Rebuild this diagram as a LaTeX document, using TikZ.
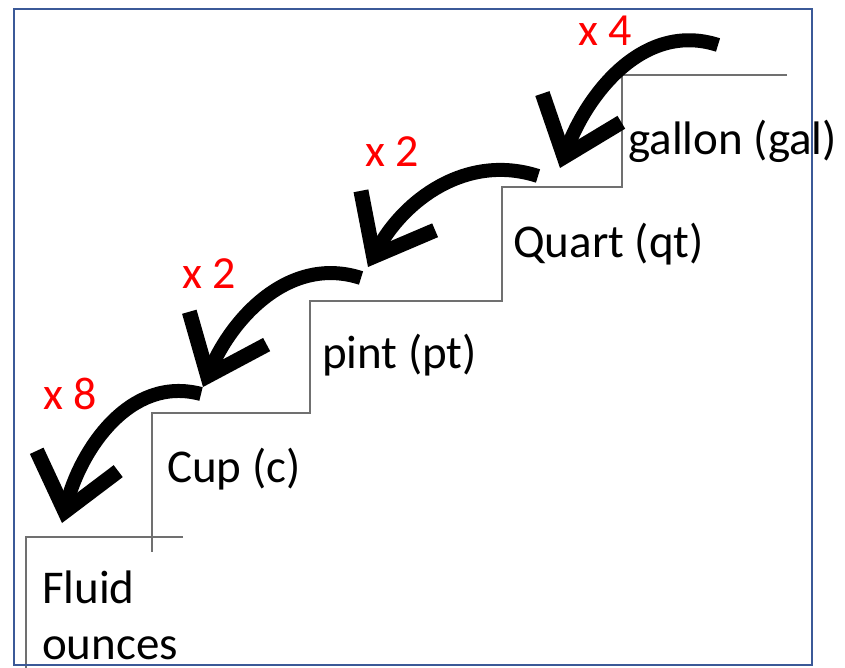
\documentclass[tikz,border=0pt]{standalone}
\usepackage{fontspec}
\setmainfont{Carlito}
\usetikzlibrary{arrows.meta}
\definecolor{frameblue}{RGB}{59,89,152}
\definecolor{stairgray}{RGB}{112,112,112}
\tikzset{
  stair/.style={draw=stairgray, line width=2pt},
  unitlabel/.style={anchor=base west, inner sep=0pt, font=\fontsize{47}{56}\selectfont},
  factor/.style={anchor=base west, inner sep=0pt, text=red, font=\fontsize{46}{55}\selectfont},
  hop/.style={line width=14pt, line cap=butt,
    -{Straight Barb[sharp, length=52pt, width=84pt, line width=15pt]}},
}
\begin{document}
\begin{tikzpicture}[x=1pt, y=-1pt]
  \useasboundingbox (0,0) rectangle (845,668);

  % staircase outline
  \draw[stair] (787,75) -- (622,75) -- (622,187) -- (502,187) -- (502,301)
    -- (310,301) -- (310,413) -- (152,413) -- (152,552);
  \draw[stair] (183,537) -- (26,537) -- (26,668);

  % unit on each step
  \node[unitlabel] (gal) at (628,155) {gallon (gal)};
  \node[unitlabel] (qt) at (513,257) {Quart (qt)};
  \node[unitlabel] (pt) at (322,368) {pint (pt)};
  \node[unitlabel] (cup) at (167,482) {Cup (c)};
  \node[unitlabel, align=left] (floz) at (42,659) {Fluid\\ounces};

  % conversion factors
  \node[factor] (f4) at (578,46) {x 4};
  \node[factor] (f2a) at (365,167) {x 2};
  \node[factor] (f2b) at (182,288) {x 2};
  \node[factor] (f8) at (43,409) {x 8};

  % arrow ends
  \coordinate (t1) at (718,45);  \coordinate (p1) at (560,168);
  \coordinate (t2) at (538,176); \coordinate (p2) at (368,267);
  \coordinate (t3) at (361,278); \coordinate (p3) at (203,387);
  \coordinate (t4) at (201,394); \coordinate (p4) at (62,523);

  % hops down the stairs
  \draw[hop] (t1) to[out=162, in=70] (p1);
  \draw[hop] (t2) to[out=162, in=62] (p2);
  \draw[hop] (t3) to[out=162, in=67] (p3);
  \draw[hop] (t4) to[out=165, in=76] (p4);

  % frame
  \draw[frameblue, line width=2pt] (14,9) rectangle (812,665);
\end{tikzpicture}
\end{document}
